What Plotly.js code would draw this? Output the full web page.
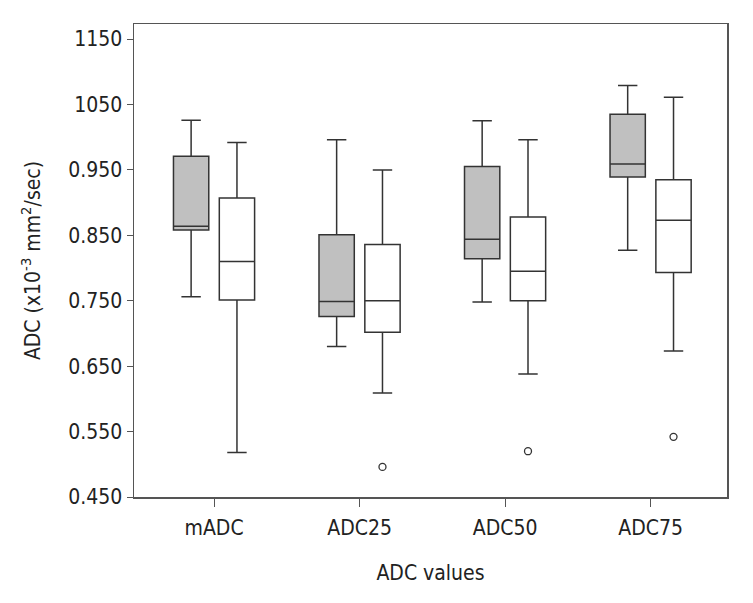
<!DOCTYPE html>
<html>
<head>
<meta charset="utf-8">
<script src="https://cdn.plot.ly/plotly-3.0.1.min.js"></script>
<style>html,body{margin:0;padding:0;background:#fff}#chart{width:753px;height:603px}</style>
</head>
<body>
<div id="chart"></div>
<script>
const categories = ['mADC', 'ADC25', 'ADC50', 'ADC75'];

// Gray boxes (first group)
const grayLower  = [0.756, 0.680, 0.748, 0.827];
const grayQ1     = [0.858, 0.726, 0.814, 0.939];
const grayMedian = [0.864, 0.749, 0.844, 0.959];
const grayQ3     = [0.971, 0.851, 0.955, 1.035];
const grayUpper  = [1.026, 0.996, 1.025, 1.079];

// White boxes (second group)
const whiteLower  = [0.518, 0.609, 0.638, 0.673];
const whiteQ1     = [0.751, 0.702, 0.750, 0.793];
const whiteMedian = [0.810, 0.750, 0.795, 0.873];
const whiteQ3     = [0.907, 0.836, 0.878, 0.935];
const whiteUpper  = [0.992, 0.950, 0.996, 1.061];

// Outliers of the white group
const outlierCategories = ['ADC25', 'ADC50', 'ADC75'];
const outlierValues     = [0.496, 0.520, 0.542];

const yTickVals = [0.45, 0.55, 0.65, 0.75, 0.85, 0.95, 1.05, 1.15];
const yTickText = ['0.450', '0.550', '0.650', '0.750', '0.850', '0.950', '1050', '1150'];

const FONT = '"DejaVu Sans Condensed", "Liberation Sans Narrow", sans-serif';
const FS = 21;
const BOXGAP = 0.37, BOXGROUPGAP = 0.23;
const XRANGE = [-0.55, 3.525];

function boxTrace(name, lower, q1, med, q3, upper, fill) {
  return {
    type: 'box',
    name: name,
    x: categories,
    lowerfence: lower,
    q1: q1,
    median: med,
    q3: q3,
    upperfence: upper,
    boxpoints: false,
    fillcolor: fill,
    line: {color: '#333333', width: 1.5},
    whiskerwidth: 0.55,
    showlegend: false,
    hoverinfo: 'skip'
  };
}

// white group sits in the second slot of each category
const slotOffset = (1 - BOXGAP) / 4;
const outlierX = outlierCategories.map(c => categories.indexOf(c) + slotOffset);

const data = [
  boxTrace('A', grayLower, grayQ1, grayMedian, grayQ3, grayUpper, '#c0c0c0'),
  boxTrace('B', whiteLower, whiteQ1, whiteMedian, whiteQ3, whiteUpper, '#ffffff'),
  {
    type: 'scatter', mode: 'markers',
    x: outlierX, y: outlierValues,
    xaxis: 'x2', yaxis: 'y',
    marker: {symbol: 'circle-open', size: 7, color: '#333333', line: {width: 1.3, color: '#333333'}},
    showlegend: false, hoverinfo: 'skip'
  }
];

const layout = {
  width: 753, height: 603,
  margin: {l: 134, r: 26, t: 24, b: 106},
  paper_bgcolor: '#ffffff',
  plot_bgcolor: '#ffffff',
  font: {family: FONT, size: FS, color: '#222222'},
  boxmode: 'group',
  boxgap: BOXGAP,
  boxgroupgap: BOXGROUPGAP,
  showlegend: false,
  xaxis: {
    type: 'category',
    range: XRANGE,
    showgrid: false, zeroline: false,
    showline: true, mirror: true, linecolor: '#555555', linewidth: 1.5,
    ticks: 'outside', ticklen: 8, tickcolor: '#555555', tickwidth: 1,
    ticklabelstandoff: 3,
    tickfont: {family: FONT, size: FS, color: '#222222'},
    title: {text: 'ADC values', font: {family: FONT, size: FS, color: '#222222'}, standoff: 26}
  },
  xaxis2: {
    overlaying: 'x', range: XRANGE, visible: false, showgrid: false, zeroline: false
  },
  yaxis: {
    range: [0.45, 1.173],
    tickvals: yTickVals, ticktext: yTickText,
    showgrid: false, zeroline: false,
    showline: true, mirror: true, linecolor: '#555555', linewidth: 1.5,
    ticks: 'outside', ticklen: 6, tickcolor: '#555555', tickwidth: 1,
    tickfont: {family: FONT, size: FS, color: '#222222'},
    title: {text: 'ADC (x10<sup>-3</sup> mm<sup>2</sup>/sec)', font: {family: FONT, size: FS, color: '#222222'}, standoff: 22}
  }
};

Plotly.newPlot('chart', data, layout, {staticPlot: true, displayModeBar: false});
</script>
</body>
</html>
